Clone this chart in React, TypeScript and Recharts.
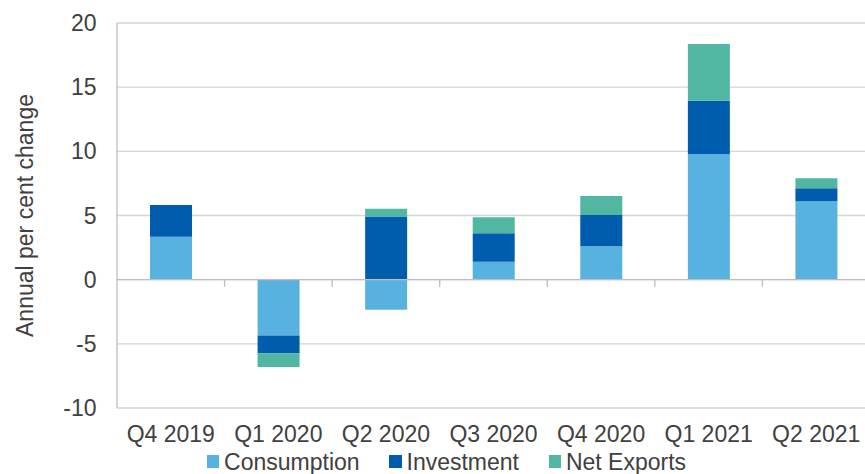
import { BarChart, Bar, XAxis, YAxis, CartesianGrid, ReferenceLine } from "recharts";

const quarters = ["Q4 2019", "Q1 2020", "Q2 2020", "Q3 2020", "Q4 2020", "Q1 2021", "Q2 2021"];
const consumption = [3.34, -4.35, -2.34, 1.39, 2.61, 9.78, 6.12];
const investment = [2.47, -1.38, 4.93, 2.23, 2.42, 4.16, 1.01];
const netExports = [0, -1.07, 0.6, 1.25, 1.48, 4.42, 0.78];
const yTicks = [-10, -5, 0, 5, 10, 15, 20];

const SERIES = [
  { key: "consumption", name: "Consumption", color: "#58B2DF" },
  { key: "investment", name: "Investment", color: "#005DAD" },
  { key: "netExports", name: "Net Exports", color: "#51B6A2" },
];

const data = quarters.map((q, i) => ({
  quarter: q,
  consumption: consumption[i],
  investment: investment[i],
  netExports: netExports[i],
}));

const FONT = "'Liberation Sans', Arial, sans-serif";
const TEXT = "#404040";
const AXIS = "#bdbdbd";

// zero line with the small category separators hanging below it
const ZeroAxis = (props: any) => {
  const { x1, x2, y1 } = props;
  const step = (x2 - x1) / quarters.length;
  return (
    <g>
      <line x1={x1} x2={x2} y1={y1} y2={y1} stroke={AXIS} strokeWidth={1.3} />
      {quarters.slice(1).map((_, i) => {
        const x = x1 + step * (i + 1);
        return <line key={i} x1={x} x2={x} y1={y1} y2={y1 + 7} stroke={AXIS} strokeWidth={1.3} />;
      })}
    </g>
  );
};

const YLabel = (props: any) => {
  const { viewBox } = props;
  const cy = viewBox.y + viewBox.height / 2;
  return (
    <text
      transform={`translate(${viewBox.x + 32.5}, ${cy}) rotate(-90)`}
      textAnchor="middle"
      fontFamily={FONT}
      fontSize={23}
      fill={TEXT}
    >
      Annual per cent change
    </text>
  );
};

export default function App() {
  return (
    <div style={{ position: "absolute", left: 0, top: 0, width: 865, height: 474, overflow: "hidden", background: "#fff" }}>
      <BarChart
        width={880}
        height={474}
        data={data}
        stackOffset="sign"
        margin={{ top: 23, right: 10, bottom: 0, left: 0 }}
      >
        <CartesianGrid vertical={false} stroke="#d4d4d4" strokeWidth={1.3} />
        <XAxis
          dataKey="quarter"
          height={66}
          axisLine={false}
          tickLine={false}
          tickSize={0}
          tickMargin={18}
          tick={{ fontFamily: FONT, fontSize: 23, fill: TEXT }}
          interval={0}
        />
        <YAxis
          width={117}
          domain={[-10, 20]}
          ticks={yTicks}
          axisLine={{ stroke: AXIS, strokeWidth: 1.3 }}
          tickLine={false}
          tickSize={0}
          tickMargin={20.5}
          tick={{ fontFamily: FONT, fontSize: 23, fill: TEXT }}
          label={<YLabel />}
        />
        {SERIES.map((s) => (
          <Bar
            key={s.key}
            dataKey={s.key}
            name={s.name}
            stackId="gdp"
            fill={s.color}
            barSize={42}
            isAnimationActive={false}
          />
        ))}
        <ReferenceLine y={0} shape={<ZeroAxis />} />
      </BarChart>

      <div
        style={{
          position: "absolute",
          left: 206.7,
          top: 448.5,
          display: "flex",
          alignItems: "center",
          fontFamily: FONT,
          fontSize: 23,
          lineHeight: "26px",
          color: TEXT,
          whiteSpace: "nowrap",
        }}
      >
        {SERIES.map((s, i) => (
          <span key={s.key} style={{ display: "flex", alignItems: "center", marginLeft: i ? 29.5 : 0 }}>
            <span style={{ width: 12.6, height: 12.6, background: s.color, marginRight: 4.8 }} />
            {s.name}
          </span>
        ))}
      </div>
    </div>
  );
}
